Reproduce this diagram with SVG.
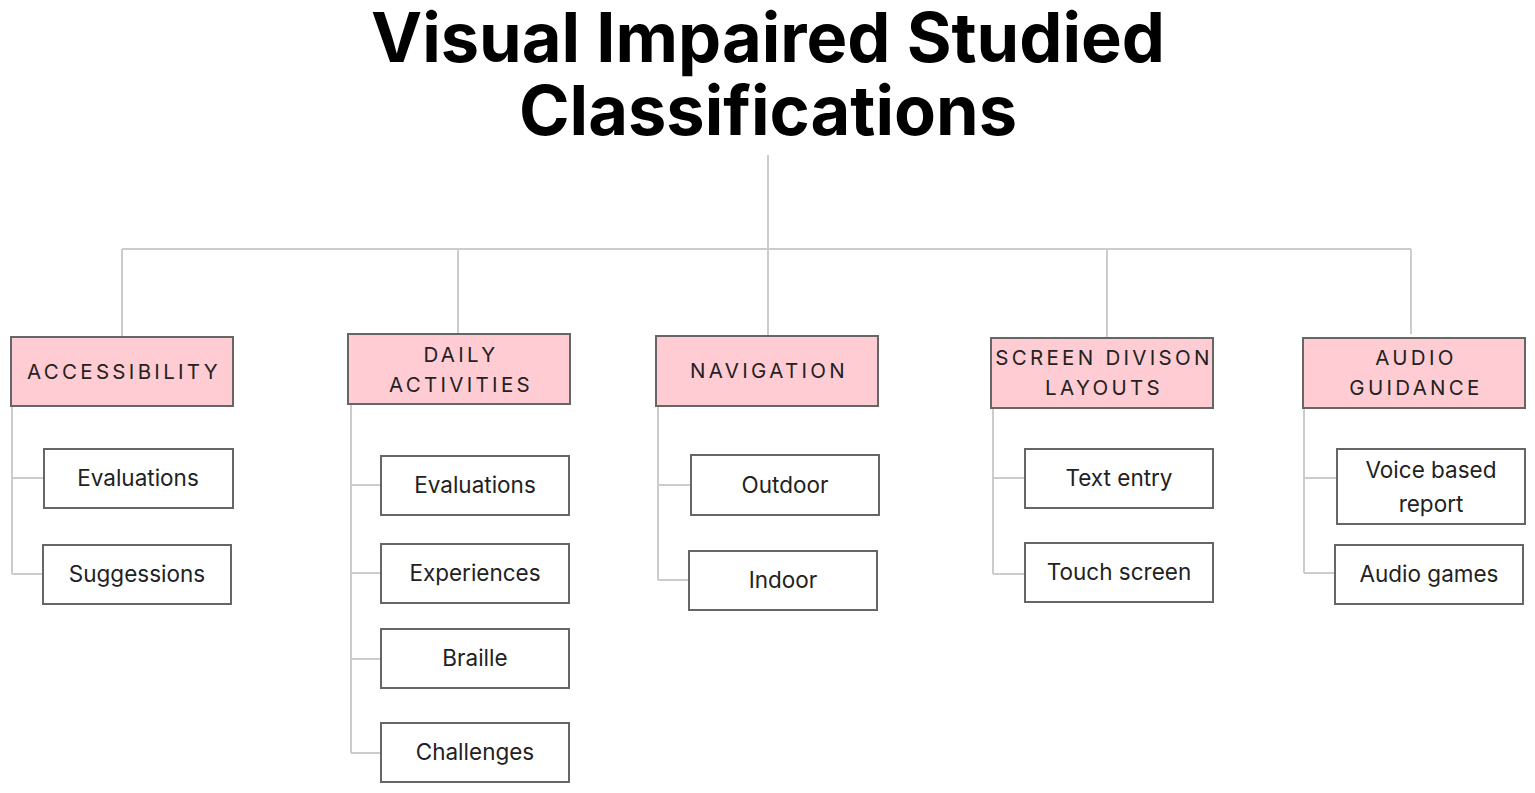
<svg xmlns="http://www.w3.org/2000/svg" width="1535" height="793" viewBox="0 0 1535 793">
<style>
.t{font-family:Inter,"Liberation Sans",sans-serif;font-weight:700;font-size:68.5px;fill:#000;text-anchor:middle}
.h rect{fill:#ffccd3;stroke:#666;stroke-width:2}
.h text{font-family:Inter,"Liberation Sans",sans-serif;font-size:20.5px;letter-spacing:3.3px;fill:#222;text-anchor:middle}
.c rect{fill:#fff;stroke:#666;stroke-width:2}
.c text{font-family:Inter,"Liberation Sans",sans-serif;font-size:22.5px;fill:#222;text-anchor:middle}
#connectors path{fill:none;stroke:#ccc;stroke-width:2}
</style>
<rect width="1535" height="793" fill="#fff"/>
<g id="title"><text class="t" x="768" y="62">Visual Impaired Studied</text><text class="t" x="768" y="135">Classifications</text></g>
<g id="connectors">
<path d="M768 155V249M122 249H1411M122 249V337M458 249V334M768 249V336M1107 249V337M1411 249V334"/>
<path d="M12 406V574M12 478H44M12 574H43"/>
<path d="M351 404V753M351 485H381M351 573H381M351 659H381M351 753H381"/>
<path d="M658 406V580M658 485H691M658 580H689"/>
<path d="M993 408V574M993 478H1025M993 574H1025"/>
<path d="M1304 408V573M1304 478H1337M1304 573H1335"/>
</g>
<g id="accessibility" class="h"><rect x="11" y="337" width="222" height="69"/><text x="124" y="379">ACCESSIBILITY</text></g>
<g id="daily" class="h"><rect x="348" y="334" width="222" height="70"/><text x="461" y="362">DAILY</text><text x="461" y="392">ACTIVITIES</text></g>
<g id="navigation" class="h"><rect x="656" y="336" width="222" height="70"/><text x="769" y="378">NAVIGATION</text></g>
<g id="screen" class="h"><rect x="991" y="338" width="222" height="70"/><text x="1104" y="365">SCREEN DIVISON</text><text x="1104" y="395">LAYOUTS</text></g>
<g id="audio" class="h"><rect x="1303" y="338" width="222" height="70"/><text x="1416" y="365">AUDIO</text><text x="1416" y="395">GUIDANCE</text></g>
<g id="a-eval" class="c"><rect x="44" y="449" width="189" height="59"/><text x="138" y="486">Evaluations</text></g>
<g id="a-sugg" class="c"><rect x="43" y="545" width="188" height="59"/><text x="137" y="582">Suggessions</text></g>
<g id="d-eval" class="c"><rect x="381" y="456" width="188" height="59"/><text x="475" y="493">Evaluations</text></g>
<g id="d-exp" class="c"><rect x="381" y="544" width="188" height="59"/><text x="475" y="581">Experiences</text></g>
<g id="d-braille" class="c"><rect x="381" y="629" width="188" height="59"/><text x="475" y="666">Braille</text></g>
<g id="d-chal" class="c"><rect x="381" y="723" width="188" height="59"/><text x="475" y="760">Challenges</text></g>
<g id="n-out" class="c"><rect x="691" y="455" width="188" height="60"/><text x="785" y="493">Outdoor</text></g>
<g id="n-in" class="c"><rect x="689" y="551" width="188" height="59"/><text x="783" y="588">Indoor</text></g>
<g id="s-text" class="c"><rect x="1025" y="449" width="188" height="59"/><text x="1119" y="486">Text entry</text></g>
<g id="s-touch" class="c"><rect x="1025" y="543" width="188" height="59"/><text x="1119" y="580">Touch screen</text></g>
<g id="au-voice" class="c"><rect x="1337" y="449" width="188" height="75"/><text x="1431" y="478">Voice based</text><text x="1431" y="512">report</text></g>
<g id="au-games" class="c"><rect x="1335" y="545" width="188" height="59"/><text x="1429" y="582">Audio games</text></g>
</svg>
